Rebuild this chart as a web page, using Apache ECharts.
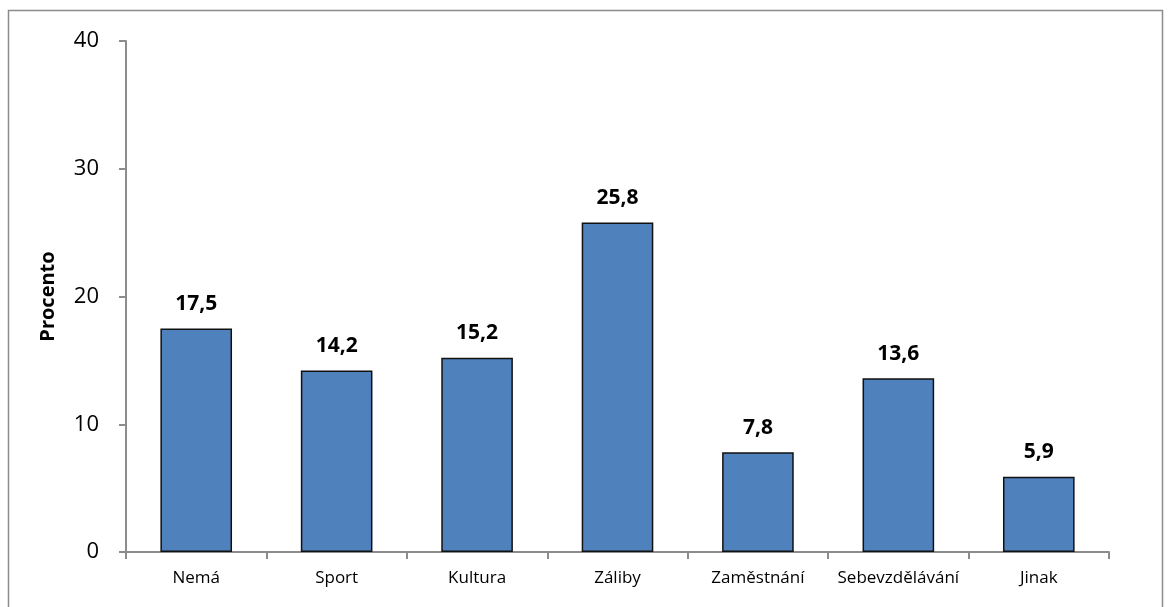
<!DOCTYPE html>
<html>
<head>
<meta charset="utf-8">
<script src="https://cdn.jsdelivr.net/npm/echarts@6/dist/echarts.min.js"></script>
<style>
  html, body { margin: 0; padding: 0; background: #fff; }
  #chart { width: 1172px; height: 607px; }
</style>
</head>
<body>
<div id="chart"></div>
<script>
// kategorie a hodnoty (procenta)
const categories = ['Nemá', 'Sport', 'Kultura', 'Záliby', 'Zaměstnání', 'Sebevzdělávání', 'Jinak'];
const values = [17.5, 14.2, 15.2, 25.8, 7.8, 13.6, 5.9];
const yTicks = { min: 0, max: 40, interval: 10 };

const chart = echarts.init(document.getElementById('chart'), null, { renderer: 'canvas' });
const font = '"Open Sans", "Noto Sans", sans-serif';

const option = {
  animation: false,
  graphic: [{
    type: 'rect',
    shape: { x: 8.5, y: 10.5, width: 1154, height: 600 },
    style: { fill: 'none', stroke: '#8c8c8c', lineWidth: 1.5 },
    silent: true
  }],
  grid: { left: 126, right: 63, top: 41, bottom: 55, containLabel: false },
  xAxis: {
    type: 'category',
    data: categories,
    axisLine: { lineStyle: { color: '#8c8c8c', width: 2 } },
    axisTick: { show: true, alignWithLabel: false, length: 7, lineStyle: { color: '#8c8c8c', width: 2 } },
    axisLabel: { color: '#000', fontSize: 17, fontFamily: font, margin: 18, interval: 0, hideOverlap: false }
  },
  yAxis: {
    type: 'value',
    min: yTicks.min,
    max: yTicks.max,
    interval: yTicks.interval,
    name: 'Procento',
    nameLocation: 'middle',
    nameRotate: 90,
    nameGap: 68,
    nameTextStyle: { color: '#000', fontSize: 20, fontWeight: 'bold', fontFamily: font },
    axisLine: { show: true, lineStyle: { color: '#8c8c8c', width: 2 } },
    axisTick: { show: true, length: 7, lineStyle: { color: '#8c8c8c', width: 2 } },
    splitLine: { show: false },
    axisLabel: { color: '#000', fontSize: 22, fontFamily: font, margin: 27 }
  },
  series: [{
    type: 'bar',
    data: values,
    barWidth: '51%',
    itemStyle: { color: '#4F81BD', borderColor: '#111', borderWidth: 1.5 },
    label: {
      show: true,
      position: 'top',
      distance: 14,
      color: '#000',
      fontSize: 21,
      fontWeight: 'bold',
      fontFamily: font,
      formatter: p => String(p.value).replace('.', ',')
    }
  }]
};

chart.setOption(option);
</script>
</body>
</html>
